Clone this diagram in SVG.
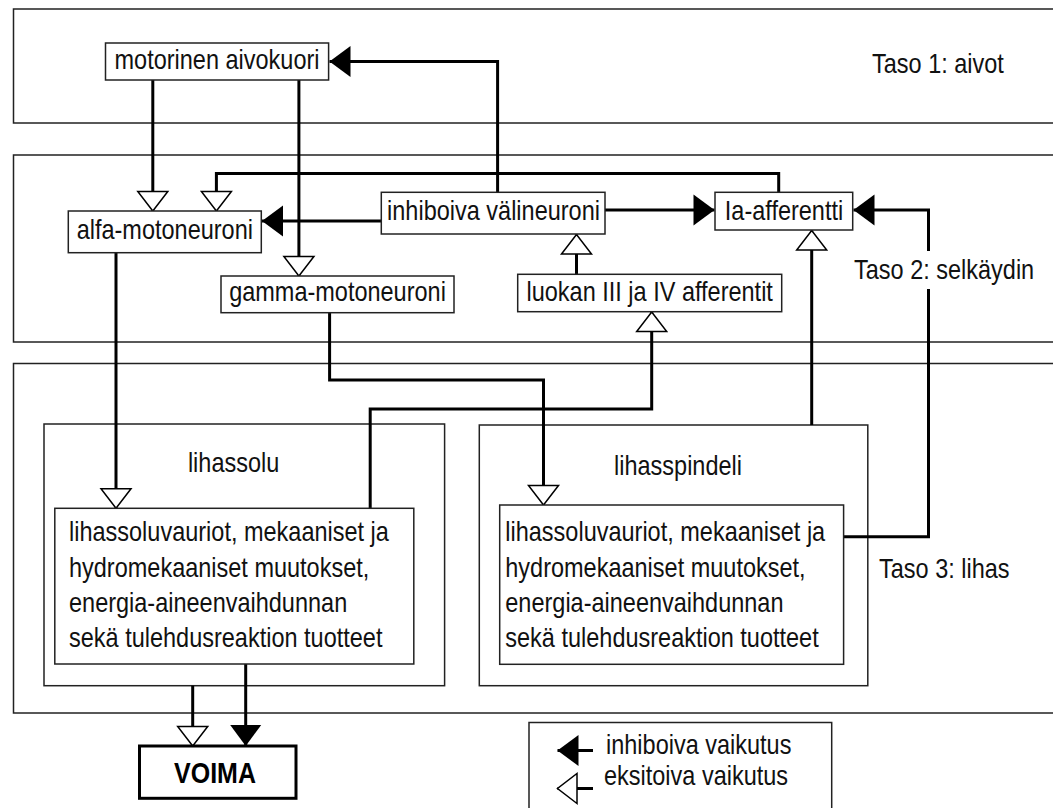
<svg xmlns="http://www.w3.org/2000/svg" width="1053" height="808" viewBox="0 0 1053 808">
<style>
.tier{fill:none;stroke:#222;stroke-width:1.5}
.box{fill:#fff;stroke:#222;stroke-width:1.5}
.frame{fill:none;stroke:#222;stroke-width:1.5}
.t{font-family:"Liberation Sans",Arial,sans-serif;font-size:23.5px;fill:#111}
.c{text-anchor:middle}
.conn{fill:none;stroke:#000;stroke-width:3}
.ex{marker-end:url(#hollow)}
.in{marker-end:url(#filled)}
</style>
<defs>
<marker id="hollow" markerUnits="userSpaceOnUse" markerWidth="24" markerHeight="35" refX="20" refY="15.5" orient="auto" overflow="visible"><path d="M0.5,0.5 L20,15.5 L0.5,30.5 Z" fill="#fff" stroke="#000" stroke-width="1.5" stroke-linejoin="miter"/></marker>
<marker id="filled" markerUnits="userSpaceOnUse" markerWidth="24" markerHeight="35" refX="21" refY="15.5" orient="auto" overflow="visible"><path d="M0,0 L21,15.5 L0,31 Z" fill="#000"/></marker>
</defs>
<rect width="1053" height="808" fill="#fff"/>

<g id="taso1">
<rect class="tier" x="13.5" y="9" width="1060" height="114"/>
<text class="t" transform="translate(872,72.7) scale(1,1.15)">Taso 1: aivot</text>
</g>
<g id="taso2">
<rect class="tier" x="13.5" y="155" width="1060" height="187"/>
<text class="t" transform="translate(854,278.5) scale(1,1.15)">Taso 2: selkäydin</text>
</g>
<g id="taso3">
<rect class="tier" x="13.5" y="363.5" width="1060" height="349.5"/>
<text class="t" transform="translate(879,578.3) scale(1,1.15)">Taso 3: lihas</text>
</g>

<g id="lihassolu">
<rect class="frame" x="44" y="424" width="400.6" height="261.7"/>
<text class="t c" transform="translate(233.6,472) scale(1,1.15)">lihassolu</text>
</g>
<g id="lihasspindeli">
<rect class="frame" x="479.3" y="425" width="388.5" height="260.7"/>
<text class="t c" transform="translate(678,474.5) scale(1,1.15)">lihasspindeli</text>
</g>

<g id="connectors">
<path class="conn ex" d="M152.8,80 V211"/>
<path class="conn ex" d="M298.9,80 V276"/>
<path class="conn in" d="M497.6,192.3 V61.5 H329.5"/>
<path class="conn ex" d="M778.7,192.3 V173.5 H216.4 V211"/>
<path class="conn in" d="M381.3,221 H262"/>
<path class="conn in" d="M605,210 H714.5"/>
<path class="conn ex" d="M576.5,274.3 V234.5"/>
<path class="conn ex" d="M370.2,508.3 V409 H651.7 V312"/>
<path class="conn ex" d="M116,252.7 V508.3"/>
<path class="conn ex" d="M329.6,312.7 V380 H543.5 V505"/>
<path class="conn ex" d="M811.7,425 V230.5"/>
<path class="conn" d="M843.6,536.7 H928.5 V289"/>
<path class="conn in" d="M928.5,251 V210 H853.5"/>
<path class="conn ex" d="M192.7,685.7 V746"/>
<path class="conn in" d="M245.7,664 V746"/>
</g>

<g id="motorinen-aivokuori">
<rect class="box" x="105.5" y="43" width="223.1" height="37"/>
<text class="t c" transform="translate(217,68.5) scale(1,1.15)">motorinen aivokuori</text>
</g>
<g id="alfa-motoneuroni">
<rect class="box" x="68.3" y="211" width="193" height="41.7"/>
<text class="t c" transform="translate(164.8,239.3) scale(1,1.15)">alfa-motoneuroni</text>
</g>
<g id="inhiboiva-valineuroni">
<rect class="box" x="381.3" y="192.3" width="223.7" height="41.7"/>
<text class="t c" transform="translate(493.5,219.5) scale(1,1.15)">inhiboiva välineuroni</text>
</g>
<g id="ia-afferentti">
<rect class="box" x="715" y="192.3" width="137.7" height="37.7"/>
<text class="t c" transform="translate(784,220) scale(1,1.15)">Ia-afferentti</text>
</g>
<g id="gamma-motoneuroni">
<rect class="box" x="221" y="276" width="233" height="36.7"/>
<text class="t c" transform="translate(337.5,300.5) scale(1,1.15)">gamma-motoneuroni</text>
</g>
<g id="luokan-III-IV">
<rect class="box" x="517.7" y="274.3" width="264" height="37.4"/>
<text class="t c" transform="translate(649.7,300.7) scale(1,1.15)">luokan III ja IV afferentit</text>
</g>
<g id="lihassolu-tuotteet">
<rect class="box" x="54.8" y="508.3" width="359" height="155.7"/>
<text class="t" transform="translate(69,541) scale(1,1.15)">lihassoluvauriot, mekaaniset ja</text>
<text class="t" transform="translate(69,576.5) scale(1,1.15)">hydromekaaniset muutokset,</text>
<text class="t" transform="translate(69,612) scale(1,1.15)">energia-aineenvaihdunnan</text>
<text class="t" transform="translate(69,647) scale(1,1.15)">sekä tulehdusreaktion tuotteet</text>
</g>
<g id="lihasspindeli-tuotteet">
<rect class="box" x="499.7" y="505" width="343.9" height="159.3"/>
<text class="t" transform="translate(505.3,541) scale(1,1.15)">lihassoluvauriot, mekaaniset ja</text>
<text class="t" transform="translate(505.3,576.5) scale(1,1.15)">hydromekaaniset muutokset,</text>
<text class="t" transform="translate(505.3,612) scale(1,1.15)">energia-aineenvaihdunnan</text>
<text class="t" transform="translate(505.3,647) scale(1,1.15)">sekä tulehdusreaktion tuotteet</text>
</g>
<g id="voima">
<rect x="139.5" y="746" width="156.5" height="52.3" fill="#fff" stroke="#000" stroke-width="3"/>
<text class="c" transform="translate(215,782.5) scale(1,1.15)" font-family="'Liberation Sans',Arial,sans-serif" font-size="25" font-weight="bold" fill="#000">VOIMA</text>
</g>
<g id="legend">
<rect class="box" x="529" y="722.5" width="302.7" height="100"/>
<path class="conn in" d="M593,750.5 H557.5"/>
<path class="conn ex" d="M593,788.5 H557.5"/>
<text class="t" transform="translate(606,754) scale(1,1.15)">inhiboiva vaikutus</text>
<text class="t" transform="translate(604,785) scale(1,1.15)">eksitoiva vaikutus</text>
</g>
</svg>
